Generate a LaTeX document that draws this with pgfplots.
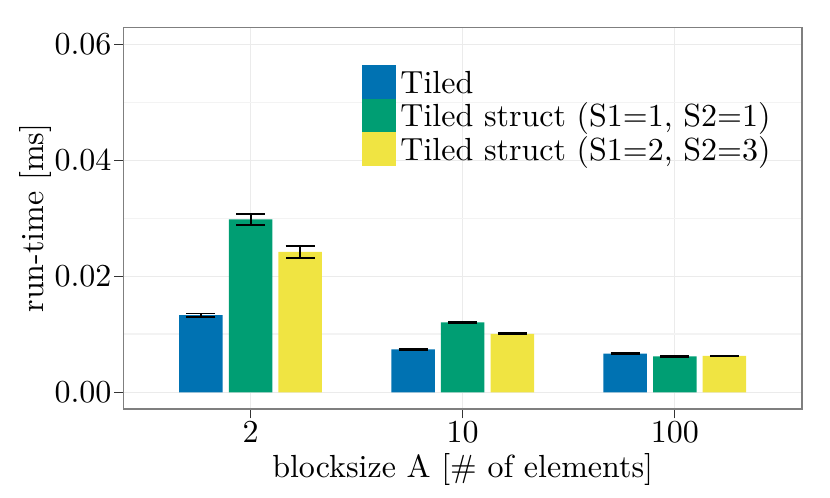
\documentclass[border=0pt]{standalone}
\usepackage{pgfplots}
\pgfplotsset{compat=1.18}
\definecolor{cblue}{HTML}{0072B2}
\definecolor{cgreen}{HTML}{009E73}
\definecolor{cyellow}{HTML}{F0E442}
\definecolor{gmaj}{HTML}{EBEBEB}
\definecolor{gmin}{HTML}{F3F3F3}
\definecolor{gborder}{HTML}{7F7F7F}
\definecolor{gtick}{HTML}{333333}
\begin{document}
\begin{tikzpicture}
\useasboundingbox (-38.53pt,-27.81pt) rectangle (220.84pt,127.81pt);
\begin{axis}[
  scale only axis,
  width=212.1pt, height=119.3pt,
  xmin=0.4, xmax=3.6,
  ymin=-0.00288, ymax=0.0630,
  xtick={1,2,3}, xticklabels={2,10,100},
  ytick={0,0.02,0.04,0.06},
  minor ytick={0.01,0.03,0.05},
  scaled y ticks=false,
  yticklabel style={/pgf/number format/fixed,/pgf/number format/fixed zerofill,/pgf/number format/precision=2, inner sep=0pt, xshift=-0.6pt},
  xticklabel style={inner sep=0pt, yshift=-0.6pt},
  xtick pos=bottom, ytick pos=left,
  tick align=outside,
  major tick length=2.9pt, minor tick length=0pt,
  tick style={color=gtick, line width=0.36pt},
  axis line style={draw=gborder, line width=0.36pt},
  grid=both,
  major grid style={draw=gmaj, line width=0.36pt},
  minor grid style={draw=gmin, line width=0.57pt},
  xlabel={blocksize A [\# of elements]},
  ylabel={run-time [ms]},
  xlabel style={at={(axis description cs:0.5,0)}, anchor=base, yshift=-21.56pt, inner sep=0pt},
  ylabel style={at={(axis description cs:-0.1183,0.5)}, anchor=base, inner sep=0pt},
  ybar,
  bar width=13.59pt,
  legend style={at={(axis cs:1.525,0.05643)}, anchor=north west, draw=none, fill=none,
    inner sep=0pt, outer sep=0pt, row sep=0pt,
    nodes={inner sep=0pt, outer sep=0pt, text height=8.66pt, text depth=1.81pt, anchor=base west},
    /tikz/column 1/.style={column sep=1.3pt}},
  legend cell align=left,
  legend image code/.code={\fill[#1] (0pt,-1.81pt) rectangle (10.75pt,8.66pt);},
  error bars/y dir=both,
  error bars/y explicit,
  error bars/error bar style={black, line width=0.62pt},
  error bars/error mark options={black, line width=0.62pt, mark size=4.53pt, rotate=90},
]
\addplot[fill=cblue, draw=none, bar shift=-15.5pt] coordinates {
  (1,0.0133) +- (0,0.0003)
  (2,0.00743) +- (0,0.00005)
  (3,0.00669) +- (0,0.00005)
};
\addplot[fill=cgreen, draw=none, bar shift=0pt] coordinates {
  (1,0.02985) +- (0,0.00095)
  (2,0.01205) +- (0,0.00015)
  (3,0.00622) +- (0,0.00005)
};
\addplot[fill=cyellow, draw=none, bar shift=15.5pt] coordinates {
  (1,0.02425) +- (0,0.00105)
  (2,0.01008) +- (0,0.0001)
  (3,0.00628) +- (0,0.00005)
};
\legend{Tiled, Tiled struct (S1=1{,} S2=1), Tiled struct (S1=2{,} S2=3)}
\end{axis}
\end{tikzpicture}
\end{document}
